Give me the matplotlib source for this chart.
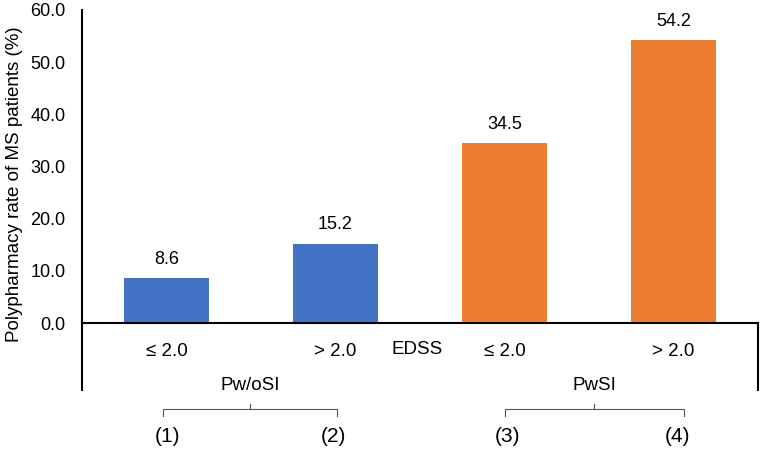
import matplotlib
matplotlib.use("Agg")
import matplotlib.pyplot as plt

categories = ["≤ 2.0", "> 2.0", "≤ 2.0", "> 2.0"]
values = [8.6, 15.2, 34.5, 54.2]
groups = ["Pw/oSI", "PwSI"]
numbers = ["(1)", "(2)", "(3)", "(4)"]
colors = ["#4472C4", "#4472C4", "#ED7D31", "#ED7D31"]
yticks = [0, 10, 20, 30, 40, 50, 60]

plt.rcParams['font.family'] = ['Liberation Sans', 'DejaVu Sans']

W, H = 767, 449
fig = plt.figure(figsize=(W/100, H/100), dpi=100)
x0, x1, ytop, ybot = 82, 758, 10, 323
ax = fig.add_axes([x0/W, 1-ybot/H, (x1-x0)/W, (ybot-ytop)/H])

xs = list(range(len(values)))
ax.bar(xs, values, width=0.5, color=colors, zorder=2)
for x, v in zip(xs, values):
    ax.text(x, v + 2.0, f"{v:.1f}", ha="center", va="bottom", fontsize=13)

ax.set_xlim(-0.5, 3.5)
ax.set_ylim(0, 60)
ax.set_yticks(yticks)
ax.set_yticklabels([f"{t:.1f}" for t in yticks], fontsize=13)
ax.tick_params(axis="y", length=0, pad=12)
ax.set_xticks([])
for s in ["top", "right"]:
    ax.spines[s].set_visible(False)
ax.spines["left"].set_linewidth(1.5)
ax.spines["bottom"].set_linewidth(1.5)
ax.set_ylabel("Polypharmacy rate of MS patients (%)", fontsize=13.5, labelpad=5)
ax.yaxis.label.set_y(0.445)

def fx(px):
    return px / W
def fy(py):
    return 1 - py / H

def dpx(x):
    return x0 + (x + 0.5) / 4 * (x1 - x0)

fig.add_artist(plt.Line2D([fx(x0), fx(x0)], [fy(ybot), fy(390)], color="black", lw=1.5))
fig.add_artist(plt.Line2D([fx(x1), fx(x1)], [fy(ybot), fy(390)], color="black", lw=1.5))

for x, c in zip(xs, categories):
    fig.text(fx(dpx(x)), fy(352), c, ha="center", va="center", fontsize=13.5)
fig.text(fx(417), fy(350), "EDSS", ha="center", va="center", fontsize=13.5)

grp_centers = [250, 594]
for gc, g in zip(grp_centers, groups):
    fig.text(fx(gc), fy(386), g, ha="center", va="center", fontsize=13.5)

braces = [(163, 337, 250), (505, 684, 594)]
for a, b, m in braces:
    fig.add_artist(plt.Line2D([fx(a), fx(a), fx(b), fx(b)], [fy(416), fy(409), fy(409), fy(416)], color="#555555", lw=0.8))
    fig.add_artist(plt.Line2D([fx(m), fx(m)], [fy(409), fy(404)], color="#555555", lw=0.8))

num_x = [167, 333, 508, 678]
for nx, n in zip(num_x, numbers):
    fig.text(fx(nx), fy(437), n, ha="center", va="center", fontsize=15)

fig.savefig("out.png", dpi=100)
